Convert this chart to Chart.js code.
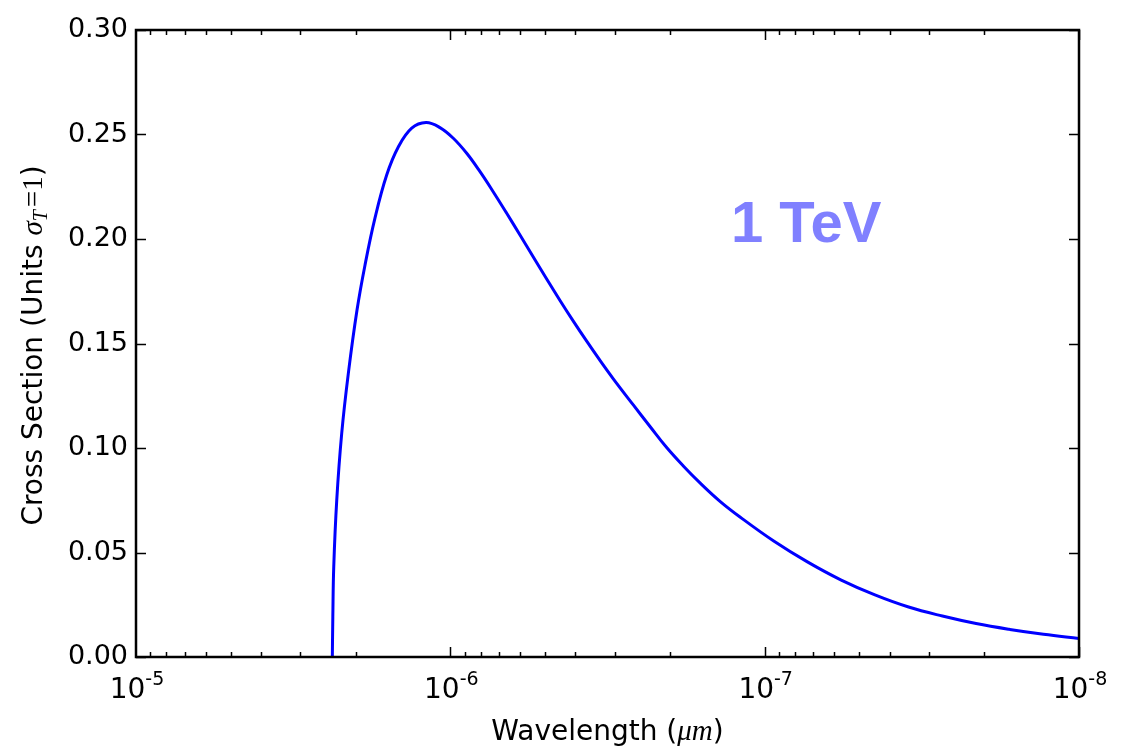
<!DOCTYPE html>
<html>
<head>
<meta charset="utf-8">
<script src="https://cdn.jsdelivr.net/npm/chart.js@4.4.1/dist/chart.umd.min.js"></script>
<style>
  html, body { margin: 0; padding: 0; background: #fff; }
  canvas { display: block; }
</style>
</head>
<body>
<canvas id="crossSection" width="1121" height="748"></canvas>
<script>
// wavelength (um) and cross section in units of sigma_T
const wavelength = [
  2.3735e-6, 2.365e-6, 2.349e-6, 2.298e-6, 2.216e-6, 2.111e-6, 1.981e-6, 1.868e-6,
  1.737e-6, 1.594e-6, 1.464e-6, 1.327e-6, 1.195e-6, 1.079e-6, 9.785e-7, 8.869e-7,
  8.045e-7, 7.298e-7, 6.617e-7, 6.003e-7, 5.446e-7, 4.937e-7, 4.478e-7, 4.063e-7,
  3.683e-7, 3.341e-7, 3.031e-7, 2.618e-7, 2.316e-7, 2.050e-7, 1.815e-7, 1.606e-7,
  1.387e-7, 1.198e-7, 9.358e-8, 7.311e-8, 5.707e-8, 4.459e-8, 3.484e-8, 2.720e-8,
  2.125e-8, 1.660e-8, 1.297e-8, 1.0e-8
];
const crossSection = [
  0, 0.0193, 0.0432, 0.0751, 0.1070, 0.1357, 0.1660, 0.1876,
  0.2100, 0.2306, 0.2440, 0.2530, 0.2557, 0.2533, 0.2482, 0.2410,
  0.2322, 0.2225, 0.2123, 0.2019, 0.1914, 0.1809, 0.1706, 0.1607,
  0.1511, 0.1419, 0.1331, 0.1206, 0.1103, 0.1002, 0.0914, 0.0833,
  0.0745, 0.0670, 0.0555, 0.0455, 0.0368, 0.0297, 0.0239, 0.0196,
  0.0160, 0.0132, 0.0109, 0.0089
];
const xTickExponents = [-5, -6, -7, -8];
const yTicks = [0, 0.05, 0.10, 0.15, 0.20, 0.25, 0.30];
const energyLabel = '1 TeV';

const points = wavelength.map((w, i) => ({ x: w, y: crossSection[i] }));

const SANS = '"DejaVu Sans", sans-serif';
const MATH = '"Liberation Serif", serif';

// draws a row of text pieces with different fonts, centred on (0,0)
function drawRuns(ctx, runs) {
  let total = 0;
  runs.forEach(r => { ctx.font = r.font; r.w = ctx.measureText(r.text).width; total += r.w + (r.gap || 0); });
  let x = -total / 2;
  runs.forEach(r => {
    ctx.font = r.font;
    ctx.textAlign = 'left';
    ctx.textBaseline = 'alphabetic';
    ctx.fillText(r.text, x, r.dy || 0);
    x += r.w + (r.gap || 0);
  });
}

const framePlugin = {
  id: 'frame',
  afterDatasetsDraw(chart) {
    const ctx = chart.ctx;
    const a = chart.chartArea;
    const xs = chart.scales.x;
    const ys = chart.scales.y;
    ctx.save();
    ctx.strokeStyle = '#000';
    ctx.fillStyle = '#000';

    // tick marks, pointing inward on all four sides
    ctx.lineWidth = 1.5;
    ctx.beginPath();
    for (let e = -8; e < -5; e++) {
      for (let k = 1; k <= 9; k++) {
        const v = k * Math.pow(10, e);
        const px = Math.round(xs.getPixelForValue(v)) + 0.5;
        const len = k === 1 ? 10 : 5;
        ctx.moveTo(px, a.bottom); ctx.lineTo(px, a.bottom - len);
        ctx.moveTo(px, a.top); ctx.lineTo(px, a.top + len);
      }
    }
    yTicks.forEach(v => {
      const py = Math.round(ys.getPixelForValue(v)) + 0.5;
      ctx.moveTo(a.left, py); ctx.lineTo(a.left + 10, py);
      ctx.moveTo(a.right, py); ctx.lineTo(a.right - 10, py);
    });
    ctx.stroke();

    // axes frame
    ctx.lineWidth = 2.5;
    ctx.strokeRect(a.left, a.top, a.right - a.left, a.bottom - a.top);

    // x tick labels 10^n
    xTickExponents.forEach(e => {
      const px = xs.getPixelForValue(Math.pow(10, e));
      ctx.save();
      ctx.translate(px + 1, 698);
      drawRuns(ctx, [
        { text: '10', font: '28px ' + SANS },
        { text: String(e), font: '19px ' + SANS, dy: -13, gap: 0 }
      ]);
      ctx.restore();
    });

    // x axis title
    ctx.save();
    ctx.translate((a.left + a.right) / 2, 740);
    drawRuns(ctx, [
      { text: 'Wavelength (', font: '28px ' + SANS },
      { text: 'μm', font: 'italic 29px ' + MATH },
      { text: ')', font: '28px ' + SANS }
    ]);
    ctx.restore();

    // y axis title
    ctx.save();
    ctx.translate(42, (a.top + a.bottom) / 2 + 2);
    ctx.rotate(-Math.PI / 2);
    drawRuns(ctx, [
      { text: 'Cross Section (Units ', font: '28px ' + SANS },
      { text: 'σ', font: 'italic 29px ' + MATH },
      { text: 'T', font: 'italic 20px ' + MATH, dy: 5, gap: 3 },
      { text: '=1', font: '29px ' + MATH },
      { text: ')', font: '28px ' + SANS }
    ]);
    ctx.restore();

    // energy annotation
    ctx.font = 'bold 58px "Liberation Sans", Arial, sans-serif';
    ctx.fillStyle = '#8080ff';
    ctx.textAlign = 'left';
    ctx.textBaseline = 'alphabetic';
    ctx.fillText(energyLabel, a.left + 595, 242);
    ctx.restore();
  }
};

new Chart(document.getElementById('crossSection').getContext('2d'), {
  type: 'scatter',
  data: {
    datasets: [{
      data: points,
      showLine: true,
      borderColor: '#0000ff',
      borderWidth: 3,
      pointRadius: 0,
      tension: 0.4,
      fill: false
    }]
  },
  options: {
    responsive: false,
    devicePixelRatio: 1,
    animation: false,
    layout: { padding: { top: 30, right: 42, left: 0, bottom: 0 } },
    plugins: { legend: { display: false }, tooltip: { enabled: false } },
    scales: {
      x: {
        type: 'logarithmic',
        reverse: true,
        min: 1e-8,
        max: 1e-5,
        grid: { display: false, drawTicks: false },
        border: { display: false },
        ticks: { display: false },
        afterFit: s => { s.height = 91; }
      },
      y: {
        min: 0,
        max: 0.3,
        grid: { display: false, drawTicks: false, tickLength: 0 },
        border: { display: false },
        ticks: {
          stepSize: 0.05,
          padding: 8,
          color: '#000',
          font: { family: 'DejaVu Sans', size: 27 },
          callback: v => v.toFixed(2)
        },
        afterFit: s => { s.width = 136; }
      }
    }
  },
  plugins: [framePlugin]
});
</script>
</body>
</html>
